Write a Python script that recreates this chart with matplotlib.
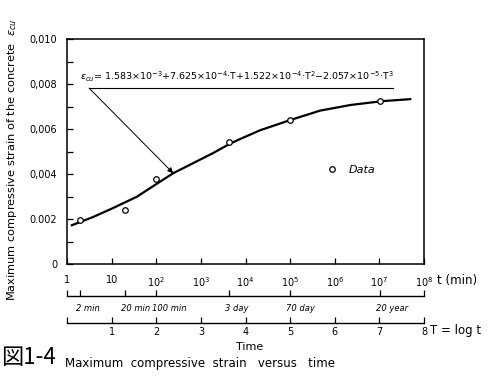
import matplotlib
matplotlib.use("Agg")
import matplotlib.pyplot as plt
import matplotlib.transforms as mtransforms
import numpy as np
from matplotlib.ticker import NullLocator

# measured points (t in minutes)
t_data = [2, 20, 100, 4320, 100800, 10519200]
eps_data = [0.00195, 0.00240, 0.00378, 0.00542, 0.00640, 0.00724]

# fitted curve, T = log t
T_curve = [0.11, 0.58, 1.03, 1.57, 2.02, 2.38, 2.83, 3.27, 3.65, 3.88,
           4.33, 5.00, 5.67, 6.35, 7.06, 7.69]
eps_curve = [0.00173, 0.00209, 0.00249, 0.00300, 0.00358, 0.00404, 0.00449,
             0.00493, 0.00535, 0.00556, 0.00595, 0.00640, 0.00682, 0.00707,
             0.00724, 0.00733]

t_ticks = [10.0 ** i for i in range(9)]
t_labels = ['1', '10', '$10^2$', '$10^3$', '$10^4$', '$10^5$', '$10^6$', '$10^7$', '$10^8$']
y_ticks = [0, 0.002, 0.004, 0.006, 0.008, 0.010]
y_labels = ['0', '0.002', '0,004', '0,006', '0,008', '0,010']
day_ticks = [1, 2, 20, 100, 4320, 100800, 10519200, 1e8]
day_labels = ['', '2 min', '20 min', '100 min', '3 day', '70 day', '20 year', '']
T_ticks = list(range(9))
T_labels = ['', '1', '2', '3', '4', '5', '6', '7', '8']

formula = (r"$\varepsilon_{cu}$= 1.583×10$^{-3}$+7.625×10$^{-4}$·T+1.522×10$^{-4}$·T$^2$"
           r"−2.057×10$^{-5}$·T$^3$")

fig = plt.figure(figsize=(4.96, 3.79), dpi=100)
ax = fig.add_axes([0.135, 0.303, 0.72, 0.594])

ax.plot(10.0 ** np.array(T_curve), eps_curve, color='black', lw=1.6)
ax.plot(t_data, eps_data, 'o', mfc='white', mec='black', ms=4, mew=0.9, label='Data')

ax.set_xscale('log')
ax.set_xlim(1, 1e8)
ax.set_ylim(0, 0.010)
ax.set_xticks(t_ticks)
ax.set_xticklabels(t_labels)
ax.xaxis.set_minor_locator(NullLocator())
ax.set_yticks(y_ticks)
ax.set_yticklabels(y_labels)
ax.set_yticks(np.arange(0.001, 0.0100, 0.002), minor=True)
ax.tick_params(which='both', direction='in', length=4, width=0.9, labelsize=7)
ax.tick_params(axis='x', pad=8)
ax.tick_params(axis='y', pad=7)
for s in ax.spines.values():
    s.set_linewidth(1.1)

ax.set_ylabel(r"Maximum compressive strain of the concrete  $\varepsilon_{cu}$", fontsize=8.2)
ax.yaxis.set_label_coords(-0.133, 0.462)

# time scale below the axis
sec1 = ax.secondary_xaxis(-0.142)
sec1.set_xticks(day_ticks)
sec1.set_xticklabels([''] * len(day_ticks))
sec1.xaxis.set_minor_locator(NullLocator())
sec1.tick_params(direction='in', length=4, width=0.9)
sec1.spines['bottom'].set_linewidth(1.0)
shift = mtransforms.ScaledTranslation(-4 / 100, 0, fig.dpi_scale_trans)
day_tr = mtransforms.blended_transform_factory(ax.transData, ax.transAxes) + shift
for tv, lab in zip(day_ticks, day_labels):
    ax.text(tv, -0.195, lab, transform=day_tr, fontsize=6, fontstyle='italic',
            ha='left', va='center')

# T = log t scale
sec2 = ax.secondary_xaxis(-0.262, functions=(np.log10, lambda T: 10.0 ** T))
sec2.set_xticks(T_ticks)
sec2.set_xticklabels(T_labels)
sec2.xaxis.set_minor_locator(NullLocator())
sec2.tick_params(direction='in', length=4, width=0.9, labelsize=7, pad=3)
sec2.spines['bottom'].set_linewidth(1.0)

# formula with underline and arrow to the curve
ax.text(0.036, 0.80, formula, transform=ax.transAxes, fontsize=6.8, va='bottom')
ax.plot([0.062, 0.912], [0.782, 0.782], transform=ax.transAxes, color='black', lw=0.8)
ax.annotate('', xy=(10.0 ** T_curve[5], eps_curve[5]), xycoords='data',
            xytext=(0.062, 0.782), textcoords='axes fraction',
            arrowprops=dict(arrowstyle='-|>', color='black', lw=0.7,
                            mutation_scale=8, shrinkA=0, shrinkB=0))

ax.legend(loc='center left', bbox_to_anchor=(0.727, 0.418), frameon=False,
          handlelength=1, handletextpad=1.0, borderpad=0, borderaxespad=0,
          prop={'style': 'italic', 'size': 8})

fig.text(0.881, 0.261, 't (min)', fontsize=8.5, va='center', ha='left')
fig.text(0.867, 0.129, 'T = log t', fontsize=8.5, va='center', ha='left')
fig.text(0.504, 0.084, 'Time', fontsize=8, va='center', ha='center')
fig.text(0.003, 0.058, '図1-4', fontsize=16, va='center', ha='left',
         family=['Noto Sans CJK JP', 'DejaVu Sans'])
fig.text(0.131, 0.042, 'Maximum  compressive  strain   versus   time', fontsize=8.5,
         va='center', ha='left')

fig.savefig('out.png', dpi=100)
